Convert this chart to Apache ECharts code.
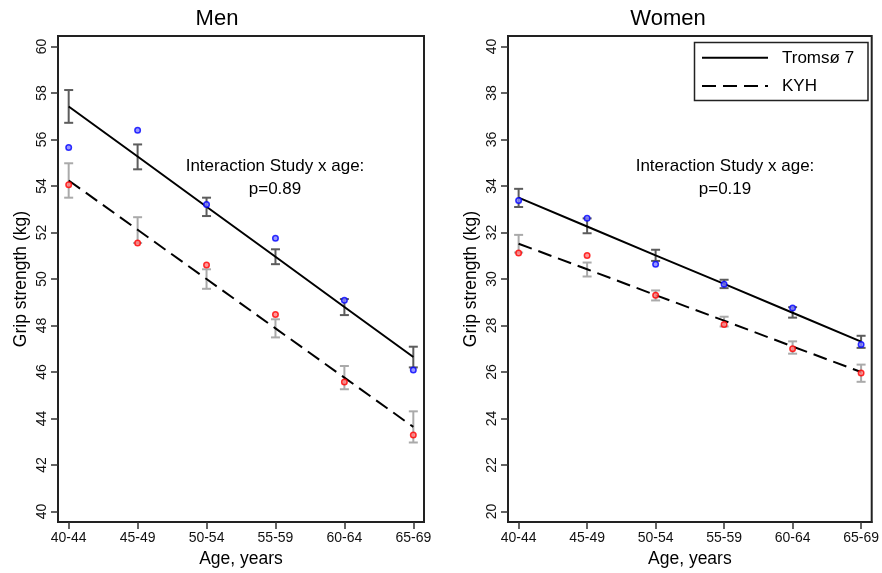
<!DOCTYPE html>
<html>
<head>
<meta charset="utf-8">
<script src="https://cdn.jsdelivr.net/npm/echarts@6/dist/echarts.min.js"></script>
<style>html,body{margin:0;padding:0;background:#fff}#c{width:882px;height:573px}</style>
</head>
<body>
<div id="c"></div>
<script>
var categories = ['40-44','45-49','50-54','55-59','60-64','65-69'];
var menTicks = [40,42,44,46,48,50,52,54,56,58,60];
var womenTicks = [20,22,24,26,28,30,32,34,36,38,40];

// Men
var menTromsoFit  = [57.42, 55.27, 53.11, 50.96, 48.80, 46.65];
var menTromsoLow  = [56.72, 54.72, 52.71, 50.64, 48.45, 46.20];
var menTromsoHigh = [58.13, 55.79, 53.50, 51.28, 49.14, 47.09];
var menTromsoObs  = [55.66, 56.40, 53.21, 51.76, 49.09, 46.09];
var menKyhFit  = [54.24, 52.12, 50.00, 47.88, 45.76, 43.64];
var menKyhLow  = [53.50, 51.55, 49.58, 47.49, 45.26, 42.97];
var menKyhHigh = [54.98, 52.66, 50.42, 48.27, 46.26, 44.31];
var menKyhObs  = [54.06, 51.55, 50.60, 48.48, 45.57, 43.29];

// Women
var womenTromsoFit  = [33.50, 32.26, 31.02, 29.79, 28.55, 27.31];
var womenTromsoLow  = [33.10, 31.97, 30.78, 29.61, 28.34, 27.04];
var womenTromsoHigh = [33.88, 32.61, 31.26, 29.97, 28.79, 27.56];
var womenTromsoObs  = [33.38, 32.61, 30.64, 29.78, 28.76, 27.18];
var womenKyhFit  = [31.52, 30.42, 29.31, 28.21, 27.10, 26.00];
var womenKyhLow  = [31.14, 30.11, 29.08, 27.96, 26.79, 25.58];
var womenKyhHigh = [31.90, 30.71, 29.51, 28.38, 27.32, 26.32];
var womenKyhObs  = [31.12, 31.01, 29.30, 28.04, 27.00, 25.96];

var FONT = 'Liberation Sans, Arial, sans-serif';
var chart = echarts.init(document.getElementById('c'), null, {renderer:'canvas'});

function pairs(arr){ return arr.map(function(v,i){return [i,v];}); }
function bars(lo,hi){ return lo.map(function(v,i){return [i,lo[i],hi[i]];}); }

function xAxisFor(gi){
  return {
    gridIndex: gi, type:'value', min:-0.155, max:5.155,
    axisLine:{show:true, onZero:false, lineStyle:{color:'#222', width:2}},
    axisTick:{show:true, customValues:[0,1,2,3,4,5], length:7, lineStyle:{color:'#333', width:1.5}},
    axisLabel:{show:true, customValues:[0,1,2,3,4,5], margin:9, fontFamily:FONT, fontSize:14, color:'#111',
      formatter:function(v){return categories[Math.round(v)];}},
    splitLine:{show:false},
    name:'Age, years', nameLocation:'middle', nameGap:25,
    nameTextStyle:{fontFamily:FONT, fontSize:17.5, color:'#000'}
  };
}
function yAxisFor(gi, ticks){
  return {
    gridIndex: gi, type:'value', min:ticks[0]-0.454, max:ticks[ticks.length-1]+0.454,
    axisLine:{show:true, onZero:false, lineStyle:{color:'#222', width:2}},
    axisTick:{show:true, customValues:ticks, length:7, lineStyle:{color:'#333', width:1.5}},
    axisLabel:{show:true, customValues:ticks, rotate:90, margin:9, fontFamily:FONT, fontSize:14, color:'#111'},
    splitLine:{show:false},
    name:'Grip strength (kg)', nameLocation:'middle', nameGap:28,
    nameTextStyle:{fontFamily:FONT, fontSize:17.5, color:'#000'}
  };
}

function errSeries(gi, lo, hi, color){
  return {
    type:'custom', xAxisIndex:gi, yAxisIndex:gi, data:bars(lo,hi), z:2, silent:true,
    renderItem:function(params, api){
      var x = api.value(0);
      var p1 = api.coord([x, api.value(1)]);
      var p2 = api.coord([x, api.value(2)]);
      var hw = 4.5;
      var st = {stroke:color, lineWidth:2};
      return {type:'group', children:[
        {type:'line', shape:{x1:p1[0], y1:p1[1], x2:p2[0], y2:p2[1]}, style:st},
        {type:'line', shape:{x1:p1[0]-hw, y1:p1[1], x2:p1[0]+hw, y2:p1[1]}, style:st},
        {type:'line', shape:{x1:p2[0]-hw, y1:p2[1], x2:p2[0]+hw, y2:p2[1]}, style:st}
      ]};
    }
  };
}
function lineSeries(gi, data, dashed){
  return {type:'line', xAxisIndex:gi, yAxisIndex:gi, data:pairs(data), symbol:'none', z:3, silent:true,
    lineStyle:{color:'#000', width:2, type: dashed ? [14,7] : 'solid'}};
}
function dotSeries(gi, data, color, fill){
  return {type:'scatter', xAxisIndex:gi, yAxisIndex:gi, data:pairs(data), symbol:'circle', symbolSize:5.5, z:4, silent:true,
    itemStyle:{color:fill, borderColor:color, borderWidth:1.5}};
}

var option = {
  animation:false,
  grid:[
    {left:58, top:36, width:366, height:493, show:true, borderColor:'#222', borderWidth:2, backgroundColor:'transparent'},
    {left:508, top:36, width:366, height:493, show:true, borderColor:'#222', borderWidth:2, backgroundColor:'transparent'}
  ],
  xAxis:[xAxisFor(0), xAxisFor(1)],
  yAxis:[yAxisFor(0, menTicks), yAxisFor(1, womenTicks)],
  series:[
    errSeries(0, menTromsoLow, menTromsoHigh, '#5c5c5c'),
    errSeries(0, menKyhLow, menKyhHigh, '#aaaaaa'),
    lineSeries(0, menTromsoFit, false),
    lineSeries(0, menKyhFit, true),
    dotSeries(0, menTromsoObs, '#0000ff', '#8080ff'),
    dotSeries(0, menKyhObs, '#ff0000', '#ff8080'),
    errSeries(1, womenTromsoLow, womenTromsoHigh, '#5c5c5c'),
    errSeries(1, womenKyhLow, womenKyhHigh, '#aaaaaa'),
    lineSeries(1, womenTromsoFit, false),
    lineSeries(1, womenKyhFit, true),
    dotSeries(1, womenTromsoObs, '#0000ff', '#8080ff'),
    dotSeries(1, womenKyhObs, '#ff0000', '#ff8080')
  ],
  graphic:[
    {type:'text', x:217, y:19, style:{text:'Men', fontFamily:FONT, fontSize:22, fill:'#000', textAlign:'center', textVerticalAlign:'middle'}},
    {type:'text', x:668, y:19, style:{text:'Women', fontFamily:FONT, fontSize:22, fill:'#000', textAlign:'center', textVerticalAlign:'middle'}},
    {type:'text', x:275, y:166, style:{text:'Interaction Study x age:', fontFamily:FONT, fontSize:17, fill:'#000', textAlign:'center', textVerticalAlign:'middle'}},
    {type:'text', x:275, y:189, style:{text:'p=0.89', fontFamily:FONT, fontSize:17, fill:'#000', textAlign:'center', textVerticalAlign:'middle'}},
    {type:'text', x:725, y:166, style:{text:'Interaction Study x age:', fontFamily:FONT, fontSize:17, fill:'#000', textAlign:'center', textVerticalAlign:'middle'}},
    {type:'text', x:725, y:189, style:{text:'p=0.19', fontFamily:FONT, fontSize:17, fill:'#000', textAlign:'center', textVerticalAlign:'middle'}},
    {type:'rect', shape:{x:694.5, y:42.5, width:173.5, height:58}, style:{fill:'#fff', stroke:'#222', lineWidth:1.5}, z:10},
    {type:'line', shape:{x1:702, y1:57.7, x2:768, y2:57.7}, style:{stroke:'#000', lineWidth:2}, z:11},
    {type:'line', shape:{x1:702, y1:86, x2:768, y2:86}, style:{stroke:'#000', lineWidth:2, lineDash:[14,7]}, z:11},
    {type:'text', x:782, y:58, style:{text:'Tromsø 7', fontFamily:FONT, fontSize:17, fill:'#000', textAlign:'left', textVerticalAlign:'middle'}, z:11},
    {type:'text', x:782, y:86, style:{text:'KYH', fontFamily:FONT, fontSize:17, fill:'#000', textAlign:'left', textVerticalAlign:'middle'}, z:11}
  ]
};
chart.setOption(option);
</script>
</body>
</html>
